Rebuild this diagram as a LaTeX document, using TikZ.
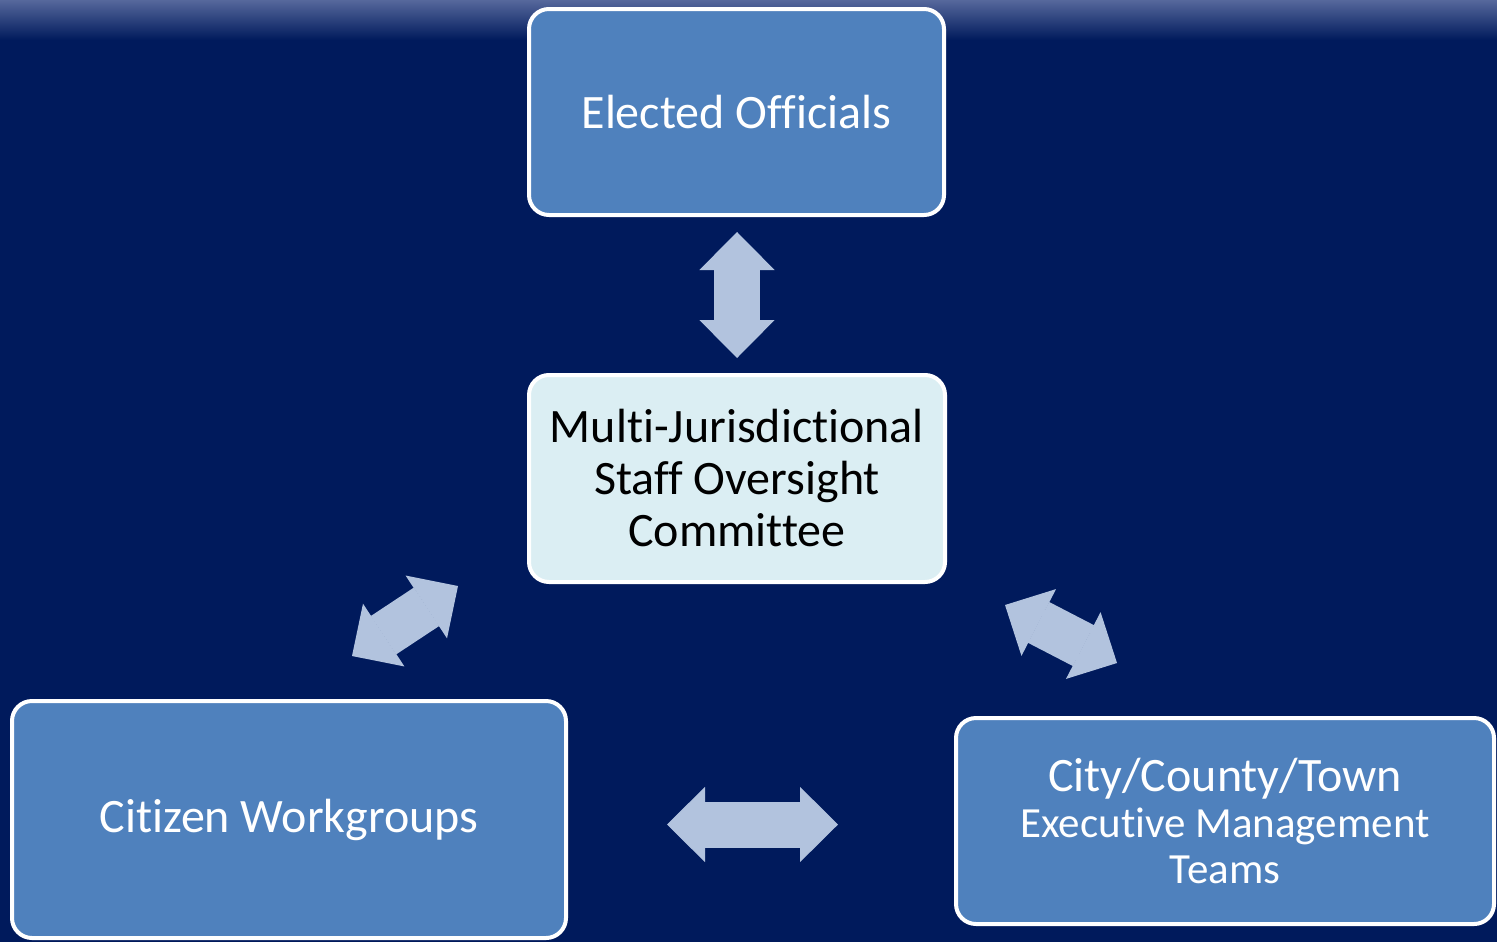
\documentclass[tikz,border=0pt]{standalone}
\usepackage{fontspec}
\setmainfont{Carlito}[Ligatures=NoCommon]
\usepackage{xcolor}
\usetikzlibrary{arrows.meta,positioning}
\definecolor{navy}{RGB}{0,26,92}
\definecolor{bandtop}{RGB}{86,104,156}
\definecolor{boxblue}{RGB}{79,129,189}
\definecolor{boxpale}{RGB}{219,238,243}
\definecolor{arrblue}{RGB}{178,195,222}
\tikzset{bluebox/.style={rounded corners=10pt, draw=white, line width=2pt, fill=boxblue,
    text=white, align=center, font=\fontsize{24}{26}\selectfont}}
\tikzset{palebox/.style={bluebox, fill=boxpale, text=black}}
\tikzset{dblarrow/.style={draw=arrblue, line width=23pt,
    {Triangle[length=19pt, width=37.5pt, line width=0.6pt, fill=arrblue]}-{Triangle[length=19pt, width=37.5pt, line width=0.6pt, fill=arrblue]}}}

\begin{document}
\begin{tikzpicture}[x=0.5pt, y=-0.5pt]
    % background and the light band at the top
    \useasboundingbox (0,0) rectangle (1497,942);
    \fill[navy] (0,0) rectangle (1497,942);
    \shade[top color=bandtop, bottom color=navy] (0,0) rectangle (1497,40);

    \node[bluebox, minimum width=207.5pt, minimum height=103pt] (elec) at (736.5, 112) {Elected Officials};
    \node[palebox, minimum width=208pt, minimum height=103.5pt] (staff) at (737, 478.5)
        {Multi-Jurisdictional\\Staff Oversight\\Committee};
    \node[bluebox, minimum width=277pt, minimum height=118.5pt] (citz) at (289, 819.5) {Citizen Workgroups};
    \node[bluebox, minimum width=269pt, minimum height=103pt] (city) at (1225, 821)
        {City/County/Town\\[-3pt]{\fontsize{21.5}{23}\selectfont Executive Management}\\[-3pt]
         {\fontsize{21.5}{23}\selectfont Teams}};

    % arrow ends
    \coordinate (elec-s) at (737, 232);
    \coordinate (staff-n) at (737, 358);
    \coordinate (staff-sw) at (458, 586);
    \coordinate (citz-ne) at (352, 656);
    \coordinate (staff-se) at (1005, 605);
    \coordinate (city-nw) at (1117, 663);
    \coordinate (citz-e) at (667, 824.5);
    \coordinate (city-w) at (838, 824.5);

    \draw[dblarrow] (elec-s) -- (staff-n);
    \draw[dblarrow] (citz-ne) -- (staff-sw);
    \draw[dblarrow] (staff-se) -- (city-nw);
    \draw[dblarrow] (citz-e) -- (city-w);
\end{tikzpicture}
\end{document}
